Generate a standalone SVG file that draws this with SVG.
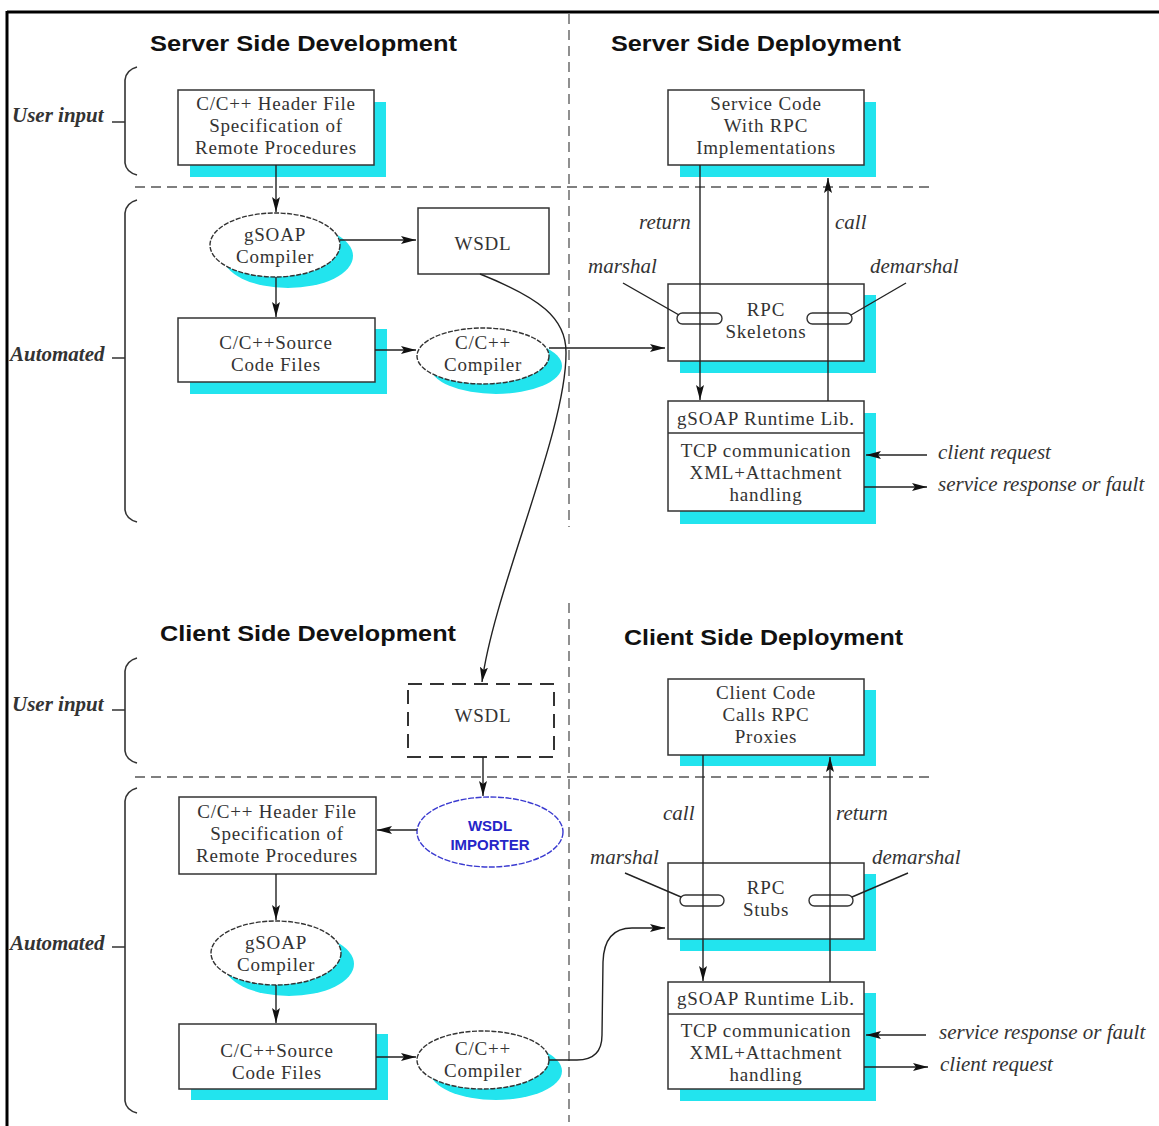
<svg xmlns="http://www.w3.org/2000/svg" width="1159" height="1126" viewBox="0 0 1159 1126">
<style>
.title{font-family:"Liberation Sans",Arial,sans-serif;font-weight:bold;font-size:22px;fill:#111}
.t{font-family:"Liberation Serif","Times New Roman",serif;font-size:19px;letter-spacing:0.8px;fill:#333;text-anchor:middle}
.it{font-family:"Liberation Serif","Times New Roman",serif;font-style:italic;font-size:21px;fill:#333}
.side{font-family:"Liberation Serif","Times New Roman",serif;font-style:italic;font-weight:bold;font-size:21px;fill:#333}
.imp{font-family:"Liberation Sans",Arial,sans-serif;font-weight:bold;font-size:15px;fill:#2525c8;text-anchor:middle}
.box{fill:#fff;stroke:#333;stroke-width:1.5}
.sh{fill:#22e4ee}
.ell{fill:#fff;stroke:#333;stroke-width:1.4;stroke-dasharray:5 1.5}
.pill{fill:#fff;stroke:#333;stroke-width:1.4}
.ln{fill:none;stroke:#222;stroke-width:1.4}
.arr{fill:none;stroke:#222;stroke-width:1.4;marker-end:url(#ah)}
.dash{fill:none;stroke:#555;stroke-width:1.3;stroke-dasharray:10 6}
.brace{fill:none;stroke:#333;stroke-width:1.6}
</style>
<defs>
<marker id="ah" markerWidth="16" markerHeight="10" refX="15" refY="5" orient="auto" markerUnits="userSpaceOnUse">
<path d="M0,1 L15,5 L0,9 L3,5 z" fill="#111"/>
</marker>
</defs>
<rect x="0" y="0" width="1159" height="1126" fill="#fff"/>
<g id="frame">
<line x1="7" y1="12" x2="1159" y2="12" stroke="#000" stroke-width="3"/>
<line x1="7" y1="11" x2="7" y2="1126" stroke="#000" stroke-width="3"/>
</g>
<g id="dividers">
<line class="dash" x1="569" y1="14" x2="569" y2="527"/>
<line class="dash" x1="569" y1="603" x2="569" y2="1122"/>
<line class="dash" x1="135" y1="187" x2="930" y2="187"/>
<line class="dash" x1="135" y1="777" x2="930" y2="777"/>
</g>
<g id="titles">
<text class="title" x="150" y="51" textLength="307" lengthAdjust="spacingAndGlyphs">Server Side Development</text>
<text class="title" x="611" y="51" textLength="290" lengthAdjust="spacingAndGlyphs">Server Side Deployment</text>
<text class="title" x="160" y="641" textLength="296" lengthAdjust="spacingAndGlyphs">Client Side Development</text>
<text class="title" x="624" y="645" textLength="279" lengthAdjust="spacingAndGlyphs">Client Side Deployment</text>
</g>
<g id="side-labels">
<text class="side" x="12" y="122">User input</text>
<path class="brace" d="M112,122 L125,122 M137,67 Q126,70 125,80 L125,163 Q126,172 137,175"/>
<text class="side" x="10" y="361">Automated</text>
<path class="brace" d="M112,358 L125,358 M137,200 Q126,203 125,213 L125,510 Q126,519 137,522"/>
<text class="side" x="12" y="711">User input</text>
<path class="brace" d="M112,710 L125,710 M137,658 Q126,661 125,671 L125,751 Q126,760 137,763"/>
<text class="side" x="10" y="950">Automated</text>
<path class="brace" d="M112,947 L125,947 M137,788 Q126,791 125,801 L125,1101 Q126,1110 137,1113"/>
</g>

<g id="server-header">
<rect class="sh" x="190" y="102" width="196" height="75"/>
<rect class="box" x="178" y="90" width="196" height="75"/>
<text class="t" x="276" y="110">C/C++ Header File</text>
<text class="t" x="276" y="132">Specification of</text>
<text class="t" x="276" y="154">Remote Procedures</text>
</g>
<g id="server-gsoap-compiler">
<ellipse class="sh" cx="288" cy="256" rx="65" ry="32"/>
<ellipse class="ell" cx="275" cy="245" rx="65" ry="32"/>
<text class="t" x="275" y="241">gSOAP</text>
<text class="t" x="275" y="263">Compiler</text>
</g>
<g id="server-wsdl">
<rect class="box" x="418" y="208" width="131" height="66"/>
<text class="t" x="483" y="250">WSDL</text>
</g>
<g id="server-source">
<rect class="sh" x="190" y="329" width="197" height="65"/>
<rect class="box" x="178" y="318" width="197" height="64"/>
<text class="t" x="276" y="349">C/C++Source</text>
<text class="t" x="276" y="371">Code Files</text>
</g>
<g id="server-cpp-compiler">
<ellipse class="sh" cx="496" cy="366" rx="66" ry="28"/>
<ellipse class="ell" cx="483" cy="356" rx="66" ry="28"/>
<text class="t" x="483" y="349">C/C++</text>
<text class="t" x="483" y="371">Compiler</text>
</g>
<g id="service-code">
<rect class="sh" x="680" y="102" width="196" height="75"/>
<rect class="box" x="668" y="90" width="196" height="75"/>
<text class="t" x="766" y="110">Service Code</text>
<text class="t" x="766" y="132">With RPC</text>
<text class="t" x="766" y="154">Implementations</text>
</g>
<g id="rpc-skeletons">
<rect class="sh" x="680" y="295" width="196" height="78"/>
<rect class="box" x="668" y="284" width="196" height="77"/>
<text class="t" x="766" y="316">RPC</text>
<text class="t" x="766" y="338">Skeletons</text>
<rect class="pill" x="677" y="313" width="45" height="11" rx="5.5"/>
<rect class="pill" x="807" y="313" width="45" height="11" rx="5.5"/>
</g>
<g id="server-runtime">
<rect class="sh" x="680" y="413" width="196" height="111"/>
<rect class="box" x="668" y="401" width="196" height="110"/>
<line x1="668" y1="433" x2="864" y2="433" stroke="#333" stroke-width="1.5"/>
<text class="t" x="766" y="425">gSOAP Runtime Lib.</text>
<text class="t" x="766" y="457">TCP communication</text>
<text class="t" x="766" y="479">XML+Attachment</text>
<text class="t" x="766" y="501">handling</text>
</g>

<g id="client-wsdl">
<rect x="408" y="684" width="146" height="73" fill="#fff" stroke="#333" stroke-width="2" stroke-dasharray="14 8"/>
<text class="t" x="483" y="722">WSDL</text>
</g>
<g id="wsdl-importer">
<ellipse cx="490" cy="832" rx="73" ry="35" fill="#fff" stroke="#3a3ad0" stroke-width="1.4" stroke-dasharray="6 1.5"/>
<text class="imp" x="490" y="831">WSDL</text>
<text class="imp" x="490" y="850">IMPORTER</text>
</g>
<g id="client-header">
<rect class="box" x="179" y="797" width="197" height="77"/>
<text class="t" x="277" y="818">C/C++ Header File</text>
<text class="t" x="277" y="840">Specification of</text>
<text class="t" x="277" y="862">Remote Procedures</text>
</g>
<g id="client-gsoap-compiler">
<ellipse class="sh" cx="289" cy="964" rx="65" ry="32"/>
<ellipse class="ell" cx="276" cy="953" rx="65" ry="32"/>
<text class="t" x="276" y="949">gSOAP</text>
<text class="t" x="276" y="971">Compiler</text>
</g>
<g id="client-source">
<rect class="sh" x="191" y="1034" width="197" height="66"/>
<rect class="box" x="179" y="1024" width="197" height="65"/>
<text class="t" x="277" y="1057">C/C++Source</text>
<text class="t" x="277" y="1079">Code Files</text>
</g>
<g id="client-cpp-compiler">
<ellipse class="sh" cx="496" cy="1071" rx="66" ry="29"/>
<ellipse class="ell" cx="483" cy="1060" rx="66" ry="29"/>
<text class="t" x="483" y="1055">C/C++</text>
<text class="t" x="483" y="1077">Compiler</text>
</g>
<g id="client-code">
<rect class="sh" x="680" y="690" width="196" height="76"/>
<rect class="box" x="668" y="679" width="196" height="76"/>
<text class="t" x="766" y="699">Client Code</text>
<text class="t" x="766" y="721">Calls RPC</text>
<text class="t" x="766" y="743">Proxies</text>
</g>
<g id="rpc-stubs">
<rect class="sh" x="680" y="874" width="196" height="77"/>
<rect class="box" x="668" y="863" width="196" height="76"/>
<text class="t" x="766" y="894">RPC</text>
<text class="t" x="766" y="916">Stubs</text>
<rect class="pill" x="680" y="895" width="44" height="11" rx="5.5"/>
<rect class="pill" x="809" y="895" width="44" height="11" rx="5.5"/>
</g>
<g id="client-runtime">
<rect class="sh" x="680" y="993" width="196" height="108"/>
<rect class="box" x="668" y="982" width="196" height="107"/>
<line x1="668" y1="1014" x2="864" y2="1014" stroke="#333" stroke-width="1.5"/>
<text class="t" x="766" y="1005">gSOAP Runtime Lib.</text>
<text class="t" x="766" y="1037">TCP communication</text>
<text class="t" x="766" y="1059">XML+Attachment</text>
<text class="t" x="766" y="1081">handling</text>
</g>

<g id="connectors">
<line class="arr" x1="276" y1="165" x2="276" y2="212"/>
<line class="arr" x1="340" y1="240" x2="416" y2="240"/>
<line class="arr" x1="276" y1="277" x2="276" y2="317"/>
<line class="arr" x1="375" y1="350" x2="416" y2="350"/>
<line class="arr" x1="549" y1="348" x2="665" y2="348"/>
<path class="arr" d="M480,274 C540,298 566,318 566,352 C567,430 494,590 482,682"/>
<line class="arr" x1="700" y1="165" x2="700" y2="400"/>
<line class="arr" x1="828" y1="401" x2="828" y2="178"/>
<line class="ln" x1="623" y1="283" x2="679" y2="315"/>
<line class="ln" x1="906" y1="283" x2="851" y2="315"/>
<line class="arr" x1="927" y1="455" x2="866" y2="455"/>
<line class="arr" x1="864" y1="487" x2="927" y2="487"/>

<line class="arr" x1="483" y1="757" x2="483" y2="796"/>
<line class="arr" x1="417" y1="830" x2="377" y2="830"/>
<line class="arr" x1="276" y1="874" x2="276" y2="920"/>
<line class="arr" x1="276" y1="985" x2="276" y2="1023"/>
<line class="arr" x1="376" y1="1057" x2="416" y2="1057"/>
<path class="arr" d="M549,1060 L577,1060 Q602,1060 602,1035 L603,962 Q604,928 632,928 L665,928"/>
<line class="arr" x1="703" y1="755" x2="703" y2="981"/>
<line class="arr" x1="830" y1="982" x2="830" y2="757"/>
<line class="ln" x1="625" y1="873" x2="681" y2="897"/>
<line class="ln" x1="908" y1="873" x2="852" y2="897"/>
<line class="arr" x1="926" y1="1035" x2="866" y2="1035"/>
<line class="arr" x1="864" y1="1067" x2="928" y2="1067"/>
</g>
<g id="connector-labels">
<text class="it" x="639" y="229">return</text>
<text class="it" x="835" y="229">call</text>
<text class="it" x="588" y="273">marshal</text>
<text class="it" x="870" y="273">demarshal</text>
<text class="it" x="938" y="459">client request</text>
<text class="it" x="938" y="491">service response or fault</text>
<text class="it" x="663" y="820">call</text>
<text class="it" x="836" y="820">return</text>
<text class="it" x="590" y="864">marshal</text>
<text class="it" x="872" y="864">demarshal</text>
<text class="it" x="939" y="1039">service response or fault</text>
<text class="it" x="940" y="1071">client request</text>
</g>
</svg>
